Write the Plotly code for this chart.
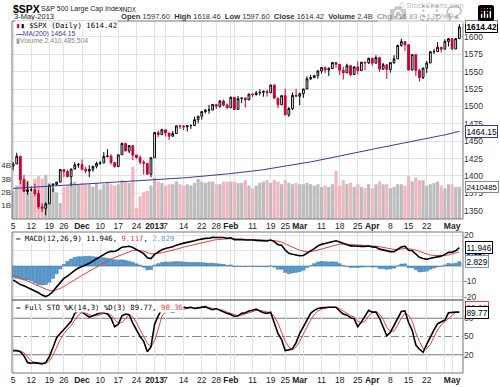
import plotly.graph_objects as go

# ---------------- data ----------------
nov = [5,6,7,8,9,12,13,14,15,16,19,20,21,23,26,27,28,29,30]
dec = [3,4,5,6,7,10,11,12,13,14,17,18,19,20,21,24,26,27,28,31]
jan = [2,3,4,7,8,9,10,11,14,15,16,17,18,22,23,24,25,28,29,30,31]
feb = [1,4,5,6,7,8,11,12,13,14,15,19,20,21,22,25,26,27,28]
mar = [1,4,5,6,7,8,11,12,13,14,15,18,19,20,21,22,25,26,27,28]
apr = [1,2,3,4,5,8,9,10,11,12,15,16,17,18,19,22,23,24,25,26,29,30]
may = [1,2,3]
dates = ([f"2012-11-{d:02d}" for d in nov] + [f"2012-12-{d:02d}" for d in dec] +
         [f"2013-01-{d:02d}" for d in jan] + [f"2013-02-{d:02d}" for d in feb] +
         [f"2013-03-{d:02d}" for d in mar] + [f"2013-04-{d:02d}" for d in apr] +
         [f"2013-05-{d:02d}" for d in may])

prev_close = 1414.20

opens = [1414.02,1417.26,1428.27,1394.53,1377.55,1379.86,1380.03,1374.64,1355.41,1353.36,1359.88,1386.82,1387.79,1391.03,1409.15,1406.29,1398.77,1409.96,1415.95,
 1416.34,1409.46,1407.05,1409.43,1413.95,1418.07,1418.55,1427.84,1428.48,1419.45,1413.54,1430.47,1446.79,1435.81,1443.67,1430.15,1426.66,1419.83,1418.10,1402.43,
 1426.19,1462.42,1459.37,1466.47,1461.89,1457.15,1461.02,1472.12,1472.05,1470.67,1472.33,1472.63,1480.95,1485.98,1492.56,1494.81,1494.82,1502.96,1500.18,1507.84,1501.96,
 1498.11,1513.17,1495.71,1511.29,1512.12,1509.39,1517.93,1517.01,1519.43,1520.33,1521.38,1519.79,1530.94,1511.95,1502.42,1515.60,1487.85,1496.94,1515.99,
 1514.68,1518.20,1525.20,1539.79,1541.46,1544.26,1551.15,1556.22,1552.48,1554.52,1563.21,1560.70,1552.10,1548.34,1558.71,1545.90,1556.89,1551.69,1563.75,1562.86,
 1569.18,1562.17,1570.25,1553.69,1559.98,1553.26,1563.11,1568.61,1587.73,1593.30,1588.84,1552.36,1574.57,1552.03,1541.61,1555.25,1562.50,1578.78,1578.93,1585.16,1582.34,1593.58,
 1597.55,1582.77,1597.60]
highs = [1419.90,1433.38,1428.27,1401.23,1391.39,1384.87,1388.81,1380.13,1360.62,1362.03,1386.89,1389.77,1391.25,1409.16,1409.15,1409.01,1410.31,1419.70,1418.86,
 1423.73,1413.14,1415.56,1413.95,1420.34,1421.64,1434.27,1438.59,1431.36,1419.45,1430.67,1448.00,1447.75,1443.70,1443.67,1430.15,1429.42,1422.80,1418.10,1426.74,
 1462.43,1465.47,1467.94,1466.47,1461.89,1464.73,1472.30,1472.75,1472.05,1473.31,1473.96,1485.16,1485.98,1492.56,1496.13,1502.27,1503.26,1503.23,1509.35,1509.94,1504.19,
 1514.41,1513.17,1514.96,1512.53,1512.90,1518.31,1518.31,1522.29,1524.69,1523.14,1524.24,1530.94,1530.94,1511.95,1515.64,1525.84,1498.99,1520.08,1525.34,
 1519.99,1525.27,1543.47,1545.25,1545.78,1552.48,1556.27,1556.77,1556.39,1563.32,1563.62,1560.70,1557.25,1561.56,1558.71,1557.74,1564.91,1563.95,1564.07,1570.28,
 1570.57,1573.66,1571.47,1562.60,1559.98,1563.07,1573.89,1589.07,1597.35,1593.30,1588.84,1575.35,1574.57,1554.38,1555.89,1565.55,1579.58,1583.00,1592.64,1585.78,1596.65,1597.57,
 1597.55,1598.60,1618.46]
lows = [1408.13,1417.26,1388.14,1377.51,1373.03,1377.19,1370.94,1352.50,1348.05,1343.35,1359.88,1377.04,1386.39,1391.03,1398.03,1398.03,1385.43,1409.04,1411.63,
 1408.46,1403.65,1398.23,1405.93,1410.90,1415.64,1418.55,1426.76,1416.00,1411.88,1413.54,1430.47,1435.80,1432.82,1422.58,1424.66,1416.43,1401.80,1401.58,1398.11,
 1426.19,1455.53,1458.99,1456.62,1451.64,1457.15,1461.02,1467.58,1465.69,1463.76,1467.60,1472.63,1475.81,1481.16,1489.90,1489.46,1494.82,1496.33,1498.09,1500.11,1496.76,
 1498.11,1495.02,1495.71,1504.71,1498.49,1509.39,1513.61,1515.61,1515.93,1514.02,1514.14,1519.79,1511.41,1497.29,1502.42,1487.85,1485.01,1494.88,1514.46,
 1501.48,1512.29,1525.20,1538.11,1541.46,1539.87,1547.36,1548.24,1544.00,1554.52,1555.74,1545.13,1538.57,1548.34,1543.55,1545.90,1546.22,1551.69,1551.90,1561.08,
 1558.47,1562.17,1549.80,1552.52,1539.50,1548.63,1560.92,1568.61,1586.17,1579.97,1552.28,1552.36,1543.69,1536.03,1539.40,1548.19,1562.50,1575.80,1578.93,1577.56,1582.34,1586.50,
 1581.28,1582.77,1597.60]
closes = [1417.26,1428.39,1394.53,1377.51,1379.85,1380.03,1374.53,1355.49,1353.33,1359.88,1386.89,1387.81,1391.03,1409.15,1406.29,1398.94,1409.93,1415.95,1416.18,
 1409.46,1407.05,1409.28,1413.94,1418.07,1418.55,1427.84,1428.48,1419.45,1413.58,1430.36,1446.79,1435.81,1443.69,1430.15,1426.66,1419.83,1418.10,1402.43,1426.19,
 1462.42,1459.37,1466.47,1461.89,1457.15,1461.02,1472.12,1472.05,1470.68,1472.34,1472.63,1480.94,1485.98,1492.56,1494.81,1494.82,1502.96,1500.18,1507.84,1501.96,1498.11,
 1513.17,1495.71,1511.29,1512.12,1509.39,1517.93,1517.01,1519.43,1520.33,1521.38,1519.79,1530.94,1511.95,1502.42,1515.60,1487.85,1496.94,1515.99,1514.68,
 1518.20,1525.20,1539.79,1541.46,1544.26,1551.18,1556.22,1552.48,1554.52,1563.23,1560.70,1552.10,1548.34,1558.71,1545.80,1556.89,1551.69,1563.77,1562.85,1569.19,
 1562.17,1570.25,1553.69,1559.98,1553.28,1563.07,1568.61,1587.73,1593.37,1588.85,1552.36,1574.57,1552.01,1541.61,1555.25,1562.50,1578.78,1578.79,1585.16,1582.24,1593.61,1597.57,
 1582.70,1597.59,1614.42]

volume_b = [2.1,2.5,3.2,3.0,2.9,2.0,3.0,3.2,3.0,3.3,2.7,2.3,2.0,1.2,2.4,2.5,2.7,2.8,2.6,
 2.7,2.6,2.6,2.4,2.7,2.2,2.6,2.7,2.6,2.5,2.6,2.9,2.8,2.7,3.9,0.8,1.7,2.0,2.1,2.5,
 3.1,2.8,2.7,2.5,2.6,2.6,2.8,2.6,2.5,2.6,2.5,2.7,3.0,2.8,2.7,2.8,2.8,2.6,2.6,2.8,2.8,
 2.8,2.8,2.7,2.7,2.9,2.5,2.3,2.5,2.7,2.8,2.9,2.7,2.9,2.8,2.6,2.9,2.7,2.6,2.7,
 2.6,2.6,2.7,2.6,2.5,2.6,2.4,2.5,2.4,2.6,3.6,2.5,2.9,2.6,2.7,2.4,2.6,2.4,2.3,2.6,
 2.3,2.6,2.8,2.6,2.6,2.3,2.4,2.6,2.6,2.5,3.2,2.8,3.1,2.9,2.9,2.5,2.6,2.7,2.8,2.5,2.3,2.6,
 2.6,2.4,2.41]

ma200 = [1382.0,1382.3,1382.6,1382.9,1383.2,1383.5,1383.8,1384.1,1384.4,1384.7,1385.0,1385.3,1385.6,1385.9,1386.2,1386.5,1386.8,1387.1,1387.4,
 1387.7,1388.0,1388.3,1388.6,1388.9,1389.2,1389.5,1389.8,1390.1,1390.4,1390.7,1391.0,1391.3,1391.6,1391.9,1392.2,1392.5,1392.8,1393.2,1393.6,
 1394.0,1394.4,1394.8,1395.2,1395.6,1396.0,1396.4,1396.8,1397.2,1397.6,1398.0,1398.4,1398.9,1399.4,1399.9,1400.4,1400.9,1401.4,1401.9,1402.4,1402.9,
 1403.4,1403.9,1404.4,1405.0,1405.6,1406.2,1406.9,1407.6,1408.3,1409.0,1409.8,1410.6,1411.4,1412.2,1413.0,1413.8,1414.7,1415.6,1416.5,
 1417.4,1418.3,1419.2,1420.2,1421.2,1422.2,1423.2,1424.2,1425.2,1426.2,1427.3,1428.4,1429.5,1430.6,1431.7,1432.8,1433.9,1435.0,1436.1,1437.2,
 1438.3,1439.4,1440.5,1441.6,1442.7,1443.8,1444.9,1446.0,1447.1,1448.1,1449.1,1450.1,1451.1,1452.1,1453.1,1454.1,1455.1,1456.1,1457.1,1458.1,1459.1,1460.1,
 1461.1,1462.6,1464.15]

macd = [-9.0,-10.5,-12.0,-12.8,-13.8,-15.0,-16.0,-17.3,-18.8,-19.8,-18.5,-16.5,-13.5,-10.5,-8.0,-6.5,-4.5,-2.8,-1.3,
 -0.5,0.6,1.8,3.2,4.6,5.8,7.5,8.8,9.5,9.4,10.5,12.2,12.5,12.8,12.0,10.8,9.4,8.0,5.3,4.8,
 7.5,9.0,10.5,11.3,11.8,12.4,13.5,14.3,14.8,15.3,15.6,16.3,17.0,17.6,17.9,18.0,18.5,18.4,18.6,18.4,17.9,
 18.3,17.0,17.2,17.1,16.8,17.0,16.8,16.6,16.5,16.4,16.2,16.8,15.8,13.8,13.4,10.3,8.2,7.6,7.0,
 6.6,6.8,8.2,9.5,11.2,12.9,14.0,14.5,15.0,15.8,16.3,15.6,14.6,13.8,13.0,12.9,12.6,12.7,12.6,12.9,
 12.3,12.2,10.9,10.3,9.4,9.3,9.3,10.8,12.3,12.8,10.2,9.9,7.9,5.6,4.9,4.3,5.0,5.5,6.2,6.4,7.5,8.8,
 9.0,9.8,11.946]
signal = [-5.8,-6.7,-7.8,-8.8,-9.8,-10.8,-11.9,-12.9,-14.1,-15.3,-15.9,-16.0,-15.5,-14.5,-13.2,-11.9,-10.4,-8.9,-7.4,
 -6.0,-4.7,-3.4,-2.1,-0.7,0.6,2.0,3.3,4.6,5.5,6.5,7.7,8.6,9.5,10.0,10.1,10.0,9.6,8.7,7.9,
 7.9,8.1,8.6,9.1,9.6,10.2,10.9,11.5,12.2,12.8,13.4,14.0,14.6,15.2,15.7,16.2,16.6,17.0,17.3,17.5,17.6,
 17.7,17.6,17.5,17.4,17.3,17.2,17.2,17.0,16.9,16.8,16.7,16.7,16.5,16.0,15.5,14.4,13.2,12.1,11.1,
 10.2,9.5,9.2,9.3,9.7,10.3,11.0,11.7,12.4,13.1,13.7,14.1,14.2,14.1,13.9,13.7,13.5,13.4,13.2,13.1,
 13.0,12.8,12.5,12.0,11.5,11.1,10.7,10.7,11.0,11.4,11.2,10.9,10.3,9.4,8.5,7.6,7.1,6.8,6.7,6.6,6.8,7.2,
 7.6,8.4,9.117]
hist = [-7.5,-8.0,-8.5,-9.0,-9.0,-9.5,-11.0,-12.0,-12.3,-12.0,-10.5,-8.0,-5.0,-2.0,1.0,3.0,4.5,5.5,6.0,
 6.0,6.2,6.3,6.0,5.8,5.5,5.3,5.0,4.5,4.0,3.8,4.0,3.6,3.0,2.3,1.4,0.6,-0.8,-2.5,-2.3,
 0.5,1.5,2.3,2.6,2.5,2.7,2.8,2.8,2.6,2.4,2.2,2.2,2.3,2.2,2.0,1.8,1.8,1.5,1.3,1.0,0.5,
 0.6,-0.4,-0.3,-0.3,-0.4,-0.2,-0.3,-0.4,-0.4,-0.4,-0.5,0.1,-0.7,-2.1,-2.1,-4.1,-5.0,-4.5,-4.1,
 -3.6,-2.7,-1.0,0.2,1.5,2.6,2.9,2.8,2.6,2.7,2.6,1.5,0.4,-0.3,-0.9,-0.9,-0.9,-0.7,-0.6,-0.3,
 -0.7,-0.6,-1.6,-1.7,-2.1,-1.8,-1.4,0.1,1.3,1.4,-1.0,-1.0,-2.4,-3.8,-3.6,-3.3,-2.1,-1.3,-0.5,-0.2,0.7,1.6,
 1.4,1.8,2.829]

sto_k = [27,27,25,18,7,6,7,6,5,7,17,32,48,55,61,68,75,88,92,
 90,86,82,84,86,89,89,87,80,66,70,84,87,86,72,60,50,42,25,33,
 70,84,95,93,92,90,92,96,98,97,98,96,97,98,99,96,94,96,93,90,88,
 86,83,84,88,89,92,93,95,92,89,88,90,72,55,45,27,28,30,40,
 55,66,76,88,93,96,97,98,98,98,98,92,87,85,81,79,66,74,84,93,
 90,90,80,65,51,57,68,81,91,92,73,60,36,29,24,37,50,61,71,74,77,89,
 90,90,89.77]
sto_d = [26,26,26,23,17,10,7,6,6,6,10,19,32,45,55,61,68,77,85,
 90,89,86,84,84,86,88,88,85,78,72,73,80,86,82,73,61,51,39,33,
 43,62,83,91,93,92,91,93,95,97,98,97,97,97,98,98,96,95,94,93,90,
 88,86,84,85,87,90,91,93,93,92,90,89,83,72,57,42,33,28,33,
 42,54,66,77,86,92,95,97,98,98,98,96,92,88,84,82,75,73,75,84,
 89,91,87,78,65,58,59,69,80,88,85,75,56,42,30,30,37,49,61,69,74,80,
 85,90,90.36]

tick_dates = ["2012-11-05","2012-11-12","2012-11-19","2012-11-26","2012-12-03","2012-12-10",
              "2012-12-17","2012-12-24","2013-01-02","2013-01-07","2013-01-14","2013-01-22",
              "2013-01-28","2013-02-01","2013-02-04","2013-02-11","2013-02-19","2013-02-25",
              "2013-03-01","2013-03-04","2013-03-11","2013-03-18","2013-03-25","2013-04-01",
              "2013-04-08","2013-04-15","2013-04-22","2013-04-29","2013-05-01"]
tick_text = ["5","12","19","26","<b>Dec</b>","10","17","24","<b>2013</b>","7","14","22","28",
             "<b>Feb</b>","","11","19","25","<b>Mar</b>","","11","18","25","<b>Apr</b>",
             "8","15","22","","<b>May</b>"]

price_ticks = [1350,1375,1400,1425,1450,1475,1500,1525,1550,1575,1600]

# ---------------- figure ----------------
FONT = "Liberation Sans, Arial, sans-serif"
MONO = "DejaVu Sans Mono, monospace"
W, H = 500, 387
ML, MR, MT, MB = 12, 37, 21, 14
PW, PH = W - ML - MR, H - MT - MB

def px(x):
    return (x - ML) / PW

def py(y):
    return (H - MB - y) / PH

main_dom = [py(219), 1.0]
macd_dom = [py(300), py(232)]
sto_dom = [0.0, py(300)]

vol_colors = []
pc = prev_close
for c in closes:
    vol_colors.append("#bdbdbd" if c >= pc else "#f1b7c1")
    pc = c

fig = go.Figure()
fig.add_trace(go.Bar(x=dates, y=volume_b, marker=dict(color=vol_colors, line=dict(width=0)),
                     xaxis="x", yaxis="y", hoverinfo="skip"))
fig.add_trace(go.Scatter(x=dates, y=ma200, mode="lines", line=dict(color="#3a3a9a", width=1),
                         xaxis="x", yaxis="y2"))
fig.add_trace(go.Candlestick(x=dates, open=opens, high=highs, low=lows, close=closes,
                             xaxis="x", yaxis="y2", whiskerwidth=0,
                             increasing=dict(line=dict(color="#000000", width=1), fillcolor="#ffffff"),
                             decreasing=dict(line=dict(color="#cc0033", width=1), fillcolor="#cc0033")))
fig.add_trace(go.Bar(x=dates, y=hist, marker=dict(color="#5b9fd3", line=dict(color="#2f6c9c", width=0.5)),
                     xaxis="x2", yaxis="y3"))
fig.add_trace(go.Scatter(x=dates, y=signal, mode="lines", line=dict(color="#e8403c", width=1),
                         xaxis="x2", yaxis="y3"))
fig.add_trace(go.Scatter(x=dates, y=macd, mode="lines", line=dict(color="#000000", width=1.6),
                         xaxis="x2", yaxis="y3"))
fig.add_trace(go.Scatter(x=dates, y=sto_d, mode="lines", line=dict(color="#e8403c", width=1),
                         xaxis="x3", yaxis="y4"))
fig.add_trace(go.Scatter(x=dates, y=sto_k, mode="lines", line=dict(color="#000000", width=1.6),
                         xaxis="x3", yaxis="y4"))

GRID = "#e2e2e2"
xcommon = dict(type="category", categoryorder="array", categoryarray=dates,
               range=[-0.3, 124.0], tickmode="array", tickvals=tick_dates, ticktext=tick_text,
               showgrid=True, gridcolor=GRID, gridwidth=1, zeroline=False, showline=False,
               ticks="", tickfont=dict(family=FONT, size=8.5, color="#222"), fixedrange=True,
               automargin=False, tickangle=0)
ycommon = dict(zeroline=False, ticks="", automargin=False, fixedrange=True,
               tickfont=dict(family=FONT, size=8.5, color="#333"))

fig.update_layout(
    width=W, height=H, margin=dict(l=ML, r=MR, t=MT, b=MB, pad=0, autoexpand=False),
    paper_bgcolor="white", plot_bgcolor="white", showlegend=False, bargap=0.12,
    font=dict(family=FONT, size=9, color="#222"),
    xaxis=dict(xcommon, anchor="y", domain=[0, 1], rangeslider=dict(visible=False)),
    xaxis2=dict(xcommon, anchor="y3", domain=[0, 1], matches="x", showticklabels=False),
    xaxis3=dict(xcommon, anchor="y4", domain=[0, 1], matches="x"),
    yaxis=dict(ycommon, domain=main_dom, range=[0, 14.8], side="left", tickmode="array",
               tickvals=[1, 2, 3, 4], ticktext=["1B", "2B", "3B", "4B"], showgrid=False,
               tickfont=dict(family=FONT, size=8, color="#333"), anchor="x"),
    yaxis2=dict(ycommon, overlaying="y", side="right", range=[1338, 1623], tickmode="array",
                tickvals=price_ticks, showgrid=True, gridcolor=GRID, anchor="x"),
    yaxis3=dict(ycommon, domain=macd_dom, range=[-22, 22], side="right", tickmode="array",
                tickvals=[20, 10, 0, -10, -20], ticktext=["20", "", "", "-10", "-20"],
                showgrid=True, gridcolor=GRID, anchor="x2"),
    yaxis4=dict(ycommon, domain=sto_dom, range=[-10, 110], side="right", tickmode="array",
                tickvals=[80, 50, 20], showgrid=False, anchor="x3"),
)

shapes = []
shapes.append(dict(type="line", xref="paper", yref="y4", x0=0, x1=1, y0=80, y1=80,
                   line=dict(color="#777", width=1), layer="below"))
shapes.append(dict(type="line", xref="paper", yref="y4", x0=0, x1=1, y0=20, y1=20,
                   line=dict(color="#777", width=1), layer="below"))
shapes.append(dict(type="line", xref="paper", yref="y4", x0=0, x1=1, y0=50, y1=50,
                   line=dict(color="#888", width=1, dash="dashdot"), layer="below"))
for dom in (main_dom, macd_dom, sto_dom):
    shapes.append(dict(type="line", xref="x", yref="paper", x0=39, x1=39, y0=dom[0], y1=dom[1],
                       line=dict(color="#a8a8a8", width=1), layer="below"))
for dom in (main_dom, macd_dom, sto_dom):
    shapes.append(dict(type="rect", xref="paper", yref="paper", x0=0, x1=1, y0=dom[0], y1=dom[1],
                       line=dict(color="#777", width=1), fillcolor="rgba(0,0,0,0)"))
fig.update_layout(shapes=shapes)

ann = []
def text(x, y, t, size=8, color="#222", family=FONT, xanchor="left", bg=None):
    d = dict(xref="paper", yref="paper", x=px(x), y=py(y), text=t, showarrow=False,
             xanchor=xanchor, yanchor="middle", font=dict(family=family, size=size, color=color))
    if bg:
        d["bgcolor"] = bg
        d["borderpad"] = 0
    ann.append(d)

# header
text(11, 8.5, "<b>$SPX</b>", size=10.5, color="#000")
text(39, 9, "S&P 500 Large Cap Index", size=7, color="#222")
text(119, 9.5, "INDX", size=6.3, color="#222")
text(12, 16.5, "3-May-2013", size=7.5, color="#222")
text(462, 16.5, "<b>Open</b> 1597.60&nbsp; <b>High</b> 1618.46&nbsp; <b>Low</b> 1597.60&nbsp; "
     "<b>Close</b> 1614.42&nbsp; <b>Volume</b> 2.4B&nbsp; <b>Chg</b> +16.83 (+1.05%) "
     "<span style='color:#2a9a2a'>▲</span>",
     size=7.6, color="#333", xanchor="right")
text(466, 6, "© StockCharts.com", size=7.5, color="#777", xanchor="right")

# legends
text(15, 25.5, "<span style='color:#cc0033'>▮</span>▮ $SPX (Daily) 1614.42", size=7.3, color="#000",
     family=MONO, bg="white")
text(15, 33.5, "<b>—</b>MA(200) 1464.15", size=6.8, color="#3a3a9a", bg="white")
text(15, 41, "<span style='color:#999'>▮</span>Volume 2,410,485,504", size=6.8, color="#888", bg="white")
text(15, 238.5, "<b>—</b> MACD(12,26,9) 11.946, <span style='color:#e8403c'>9.117</span>, "
     "<span style='color:#5b9fd3'>2.829</span>", size=7.3, color="#000", family=MONO, bg="white")
text(15, 307, "<b>—</b> Full STO %K(14,3) %D(3) 89.77, <span style='color:#e8403c'>90.36</span>",
     size=7.3, color="#000", family=MONO, bg="white")

def box(yref, yval, t, border, size=8.5, yshift=0, color="#000"):
    ann.append(dict(xref="paper", yref=yref, x=1, y=yval, xshift=2, yshift=yshift, text=t,
                    showarrow=False, xanchor="left", yanchor="middle", bgcolor="white",
                    bordercolor=border, borderwidth=1, borderpad=0.5,
                    font=dict(family=FONT, size=size, color=color)))

box("y2", 1614.42, "<b>1614.42</b>", "#000", size=8.3)
box("y2", 1464.15, "1464.15", "#3a3a9a", size=8.3)
box("y", 2.41, "2410485", "#888", size=7.8)
box("y3", 9.117, "9.117", "#e8403c", size=8.3)
box("y3", 11.946, "11.946", "#000", size=8.3)
box("y3", 2.829, "2.829", "#5b9fd3", size=8.3)
box("y4", 90.36, "90.36", "#e8403c", size=8.3, yshift=4, color="#e8403c")
box("y4", 89.77, "89.77", "#000", size=8.3)

fig.update_layout(annotations=ann)
fig.write_html("out.html",
               post_script="document.body.style.margin='0px';document.body.style.overflow='hidden';")
